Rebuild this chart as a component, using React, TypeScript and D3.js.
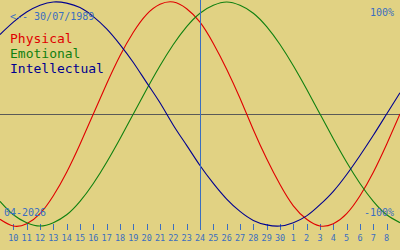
import React from "react";
import * as d3 from "d3";

// Day index 0 = 9 Apr 2026 ... 30 = 9 May 2026
const physical = [-0.94,-1.00,-0.98,-0.89,-0.73,-0.52,-0.27,0.00,0.27,0.52,0.73,0.89,0.98,1.00,0.94,0.82,0.63,0.40,0.14,-0.14,-0.40,-0.63,-0.82,-0.94,-1.00,-0.98,-0.89,-0.73,-0.52,-0.27,0.00];
const emotional = [-0.78,-0.90,-0.97,-1.00,-0.97,-0.90,-0.78,-0.62,-0.43,-0.22,0.00,0.22,0.43,0.62,0.78,0.90,0.97,1.00,0.97,0.90,0.78,0.62,0.43,0.22,0.00,-0.22,-0.43,-0.62,-0.78,-0.90,-0.97];
const intellectual = [0.71,0.82,0.91,0.97,1.00,0.99,0.95,0.87,0.76,0.62,0.46,0.28,0.10,-0.10,-0.28,-0.46,-0.62,-0.76,-0.87,-0.95,-0.99,-1.00,-0.97,-0.91,-0.81,-0.69,-0.54,-0.37,-0.19,0.00,0.19];

const tickLabels = ["10","11","12","13","14","15","16","17","18","19","20","21","22","23","24","25","26","27","28","29","30","1","2","3","4","5","6","7","8"];
const seriesNames = ["Physical", "Emotional", "Intellectual"];
const seriesColors = ["#e00000", "#108010", "#000090"];
const birthLabel = "<-- 30/07/1989";
const monthLabel = "04-2026";
const todayIndex = 15;

const W = 400, H = 250;
const BG = "#e1d283";
const AXIS = "#3a6ec0";
const MONO = "'DejaVu Sans Mono', 'Liberation Mono', monospace";

export default function App() {
  const x = d3.scaleLinear().domain([0, 30]).range([0, W]);
  const y = d3.scaleLinear().domain([-1, 1]).range([226, 2]);
  const line = d3.line<number>().x((_, i) => x(i)).y(d => y(d)).curve(d3.curveNatural);
  const allSeries = [physical, emotional, intellectual];
  const mid = Math.round(y(0)) + 0.5;
  const todayX = Math.round(x(todayIndex)) + 0.5;

  return (
    <svg width={W} height={H} style={{ position: "absolute", left: 0, top: 0, display: "block" }}>
      <rect x={0} y={0} width={W} height={H} fill={BG} />
      {/* midline */}
      <line x1={0} x2={W} y1={mid} y2={mid} stroke="#5a5a58" strokeWidth={1} shapeRendering="crispEdges" />
      {/* ticks */}
      {tickLabels.map((t, k) => {
        const xi = Math.round(x(k + 1)) + 0.5;
        return (
          <g key={k}>
            <line x1={xi} x2={xi} y1={224} y2={230} stroke={AXIS} strokeWidth={1} shapeRendering="crispEdges" />
            <text x={x(k + 1)} y={241} fill={AXIS} fontFamily={MONO} fontSize={8.5} textAnchor="middle">{t}</text>
          </g>
        );
      })}
      {/* curves */}
      {allSeries.map((s, k) => (
        <path key={k} d={line(s) || ""} fill="none" stroke={seriesColors[k]} strokeWidth={1.1} />
      ))}
      {/* today line */}
      <line x1={todayX} x2={todayX} y1={0} y2={230} stroke={AXIS} strokeWidth={1} shapeRendering="crispEdges" />
      {/* labels */}
      <text x={10} y={20} fill={AXIS} fontFamily={MONO} fontSize={10}>{birthLabel}</text>
      {seriesNames.map((n, k) => (
        <text key={n} x={10} y={43 + k * 15} fill={seriesColors[k]} fontFamily={MONO} fontSize={13}>{n}</text>
      ))}
      <text x={394} y={16} fill={AXIS} fontFamily={MONO} fontSize={10} textAnchor="end">100%</text>
      <text x={394} y={216} fill={AXIS} fontFamily={MONO} fontSize={10} textAnchor="end">-100%</text>
      <text x={4} y={216} fill={AXIS} fontFamily={MONO} fontSize={10}>{monthLabel}</text>
    </svg>
  );
}
